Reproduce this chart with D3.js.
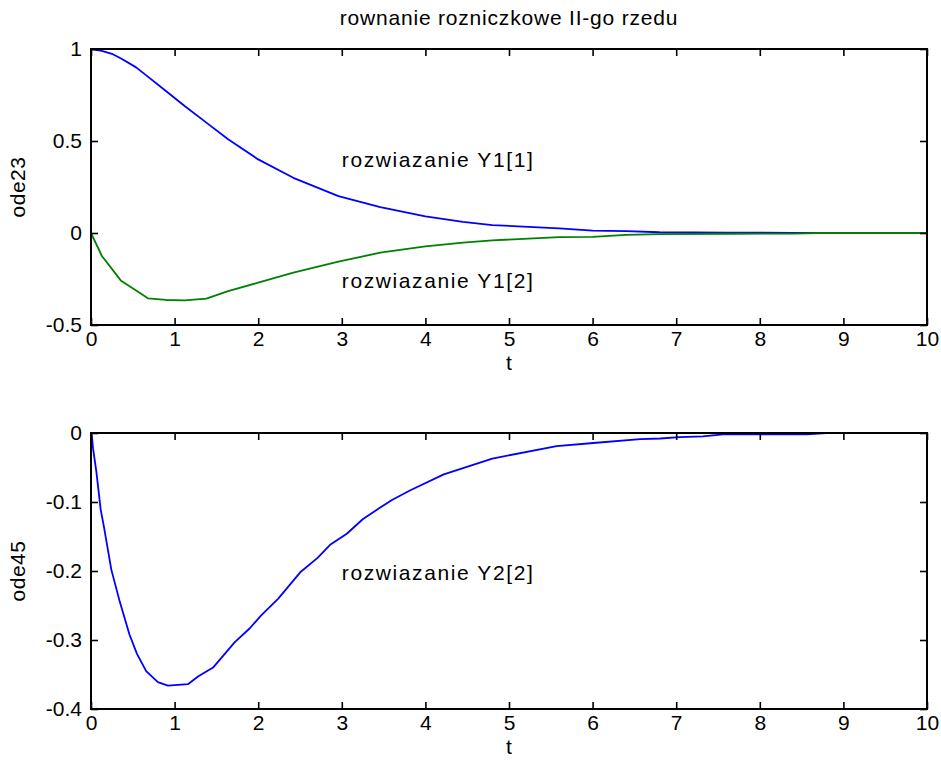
<!DOCTYPE html>
<html>
<head>
<meta charset="utf-8">
<script src="https://cdn.jsdelivr.net/npm/d3@7"></script>
<style>
  html, body { margin: 0; padding: 0; background: #fff; }
  svg { display: block; }
  text { font-family: "Liberation Sans", Arial, Helvetica, sans-serif; fill: #000; }
</style>
</head>
<body>
<svg id="fig" width="941" height="776"></svg>
<script>
// ode23 solution: time steps and both state components
const t23 = [0, 0.13, 0.25, 0.36, 0.54, 0.68, 0.9, 1.12, 1.38, 1.64, 2.0, 2.42, 2.96, 3.46, 4.0, 4.45, 4.8, 5.6, 6.0, 6.4, 6.8, 7.6, 8.4, 8.7, 10];
const y23a = [1, 0.99, 0.974, 0.948, 0.90, 0.85, 0.77, 0.69, 0.60, 0.51, 0.40, 0.30, 0.20, 0.14, 0.09, 0.06, 0.043, 0.025, 0.013, 0.010, 0.004, 0.002, 0.001, 0, 0];
const y23b = [0, -0.125, -0.195, -0.26, -0.313, -0.355, -0.364, -0.366, -0.357, -0.316, -0.27, -0.215, -0.155, -0.107, -0.073, -0.052, -0.04, -0.022, -0.021, -0.010, -0.006, -0.004, -0.003, 0, 0];

// ode45 solution: second state component
const t45 = [0, 0.01, 0.024, 0.064, 0.116, 0.155, 0.243, 0.343, 0.46, 0.55, 0.66, 0.80, 0.92, 1.16, 1.28, 1.46, 1.72, 1.90, 2.03, 2.24, 2.51, 2.71, 2.86, 3.06, 3.25, 3.46, 3.60, 3.82, 4.22, 4.80, 5.57, 6.01, 6.57, 6.81, 7.04, 7.32, 7.56, 8.56, 8.8, 10];
const y45 = [0, -0.004, -0.022, -0.056, -0.111, -0.136, -0.198, -0.244, -0.292, -0.320, -0.345, -0.361, -0.366, -0.364, -0.353, -0.340, -0.303, -0.283, -0.265, -0.240, -0.201, -0.181, -0.162, -0.146, -0.125, -0.108, -0.097, -0.083, -0.060, -0.037, -0.019, -0.0145, -0.009, -0.008, -0.006, -0.005, -0.002, -0.002, 0, 0];

// axis ticks
const xTicks = [0, 1, 2, 3, 4, 5, 6, 7, 8, 9, 10];
const yTicksTop = [-0.5, 0, 0.5, 1];
const yTicksBottom = [-0.4, -0.3, -0.2, -0.1, 0];

const svg = d3.select("#fig");
const left = 91, right = 927;
const tickLen = 7;
const fontSize = "21px";
const fmt = d => String(+(+d).toFixed(2));

function panel(top, bottom, yDomain, yTicks, series, notes, yLabel) {
  const x = d3.scaleLinear().domain([0, 10]).range([left, right]);
  const y = d3.scaleLinear().domain(yDomain).range([bottom, top]);
  const g = svg.append("g");

  // data lines
  const line = d3.line().x(d => x(d[0])).y(d => y(d[1]));
  series.forEach(s => {
    g.append("path")
      .datum(s.t.map((tt, i) => [tt, s.v[i]]))
      .attr("d", line)
      .attr("fill", "none")
      .attr("stroke", s.color)
      .attr("stroke-width", 1.8)
      .attr("stroke-linejoin", "round");
  });

  // box axes with inward ticks
  const styleAxis = sel => {
    sel.select(".domain").remove();
    sel.selectAll(".tick line").attr("stroke", "#000").attr("stroke-width", 1.6);
    sel.selectAll("text").style("font-size", fontSize).attr("fill", "#000");
  };
  g.append("g").attr("transform", `translate(0,${bottom})`)
    .call(d3.axisBottom(x).tickValues(xTicks).tickSize(-tickLen).tickPadding(6).tickFormat(fmt))
    .call(styleAxis);
  g.append("g").attr("transform", `translate(0,${top})`)
    .call(d3.axisTop(x).tickValues(xTicks).tickSize(-tickLen).tickFormat(""))
    .call(styleAxis);
  g.append("g").attr("transform", `translate(${left},0)`)
    .call(d3.axisLeft(y).tickValues(yTicks).tickSize(-tickLen).tickPadding(9).tickFormat(fmt))
    .call(styleAxis);
  g.append("g").attr("transform", `translate(${right},0)`)
    .call(d3.axisRight(y).tickValues(yTicks).tickSize(-tickLen).tickFormat(""))
    .call(styleAxis);
  g.selectAll("text").attr("font-family", null);

  g.append("rect")
    .attr("x", left).attr("y", top)
    .attr("width", right - left).attr("height", bottom - top)
    .attr("fill", "none").attr("stroke", "#000").attr("stroke-width", 2);

  // annotations
  notes.forEach(n => {
    g.append("text")
      .attr("x", x(n.t)).attr("y", y(n.v))
      .attr("dy", "0.35em")
      .style("font-size", fontSize)
      .style("letter-spacing", "1.6px")
      .text(n.label);
  });

  // axis labels
  g.append("text")
    .attr("x", (left + right) / 2).attr("y", bottom + 45)
    .attr("text-anchor", "middle").style("font-size", fontSize).text("t");
  g.append("text")
    .attr("transform", `translate(25,${(top + bottom) / 2}) rotate(-90)`)
    .attr("text-anchor", "middle").style("font-size", fontSize)
    .style("letter-spacing", "0.5px").text(yLabel);
}

panel(49, 325, [-0.5, 1], yTicksTop,
  [{ t: t23, v: y23a, color: "#0000ff" }, { t: t23, v: y23b, color: "#008000" }],
  [{ t: 3, v: 0.4, label: "rozwiazanie Y1[1]" }, { t: 3, v: -0.26, label: "rozwiazanie Y1[2]" }],
  "ode23");

panel(433, 709, [-0.4, 0], yTicksBottom,
  [{ t: t45, v: y45, color: "#0000ff" }],
  [{ t: 3, v: -0.203, label: "rozwiazanie Y2[2]" }],
  "ode45");

svg.append("text")
  .attr("x", (left + right) / 2).attr("y", 25)
  .attr("text-anchor", "middle")
  .style("font-size", fontSize)
  .style("letter-spacing", "0.8px")
  .text("rownanie rozniczkowe II-go rzedu");
</script>
</body>
</html>
